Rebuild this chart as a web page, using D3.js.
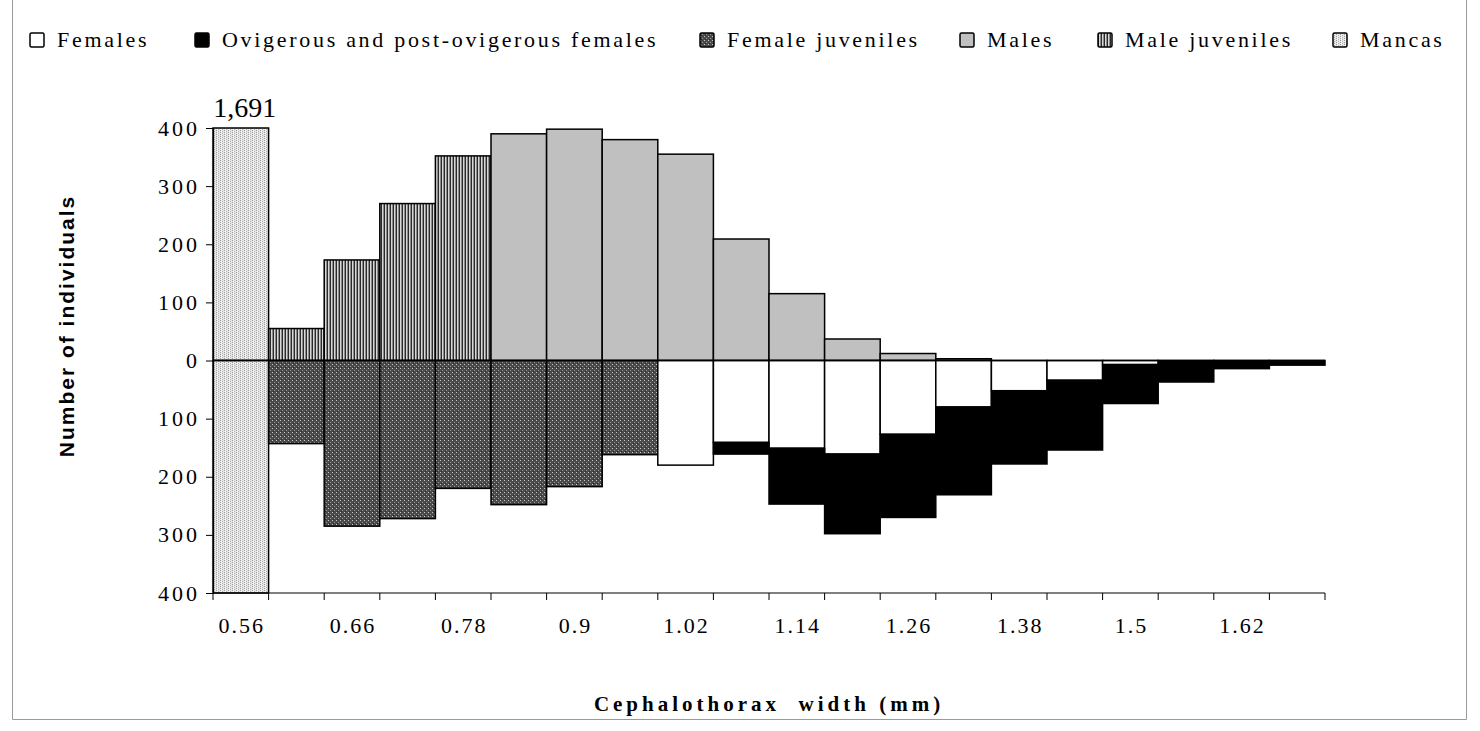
<!DOCTYPE html>
<html>
<head>
<meta charset="utf-8">
<script src="https://cdn.jsdelivr.net/npm/d3@7"></script>
<style>
  html, body { margin: 0; padding: 0; background: #fff; }
  svg { display: block; }
</style>
</head>
<body>
<svg id="chart" width="1480" height="731"></svg>
<script>
// Size classes (cephalothorax width, mm)
const categories = ["0.56","0.60","0.66","0.72","0.78","0.84","0.90","0.96","1.02","1.08",
                    "1.14","1.20","1.26","1.32","1.38","1.44","1.50","1.56","1.62","1.68"];
const tickLabels = ["0.56","","0.66","","0.78","","0.9","","1.02","","1.14","","1.26","","1.38","","1.5","","1.62",""];

// Counts per class (upper half: males side, lower half: females side)
const mancas        = [1691,  0,   0,   0,   0,   0,   0,   0,   0,   0,   0,   0,   0,   0,   0,   0,  0,  0,  0, 0];
const maleJuveniles = [   0, 55, 173, 270, 352,   0,   0,   0,   0,   0,   0,   0,   0,   0,   0,   0,  0,  0,  0, 0];
const males         = [   0,  0,   0,   0,   0, 390, 398, 380, 355, 209, 115,  37,  12,   3,   0,   0,  0,  0,  0, 0];
const femaleJuveniles=[   0,143, 285, 272, 220, 248, 217, 162,   0,   0,   0,   0,   0,   0,   0,   0,  0,  0,  0, 0];
const females       = [   0,  0,   0,   0,   0,   0,   0,   0, 180, 141, 151, 161, 127,  80,  52,  34,  7,  0,  0, 0];
const ovigerous     = [   0,  0,   0,   0,   0,   0,   0,   0,   0,  20,  96, 137, 143, 151, 126, 120, 67, 37, 14, 8];

const yTicks = [-400, -300, -200, -100, 0, 100, 200, 300, 400];

const legendItems = [
  { key: "females",   label: "Females",                              x: 30 },
  { key: "ovigerous", label: "Ovigerous and post-ovigerous females", x: 195 },
  { key: "femaleJuv", label: "Female juveniles",                     x: 700 },
  { key: "males",     label: "Males",                                x: 960 },
  { key: "maleJuv",   label: "Male juveniles",                       x: 1098 },
  { key: "mancas",    label: "Mancas",                               x: 1333 }
];

const SERIF = "'Liberation Serif', 'Times New Roman', serif";
const SANS = "'Liberation Sans', Arial, sans-serif";

const svg = d3.select("#chart");
const defs = svg.append("defs");

// Fill patterns
const pMancas = defs.append("pattern").attr("id", "p-mancas")
  .attr("width", 4).attr("height", 2).attr("patternUnits", "userSpaceOnUse");
pMancas.append("rect").attr("width", 4).attr("height", 2).attr("fill", "#e6e6e6");
pMancas.append("rect").attr("x", 0).attr("y", 0).attr("width", 1).attr("height", 1).attr("fill", "#9a9a9a");
pMancas.append("rect").attr("x", 2).attr("y", 1).attr("width", 1).attr("height", 1).attr("fill", "#b0b0b0");
pMancas.append("rect").attr("x", 1).attr("y", 1).attr("width", 1).attr("height", 1).attr("fill", "#ffffff");

const pMaleJuv = defs.append("pattern").attr("id", "p-malejuv")
  .attr("width", 3).attr("height", 4).attr("patternUnits", "userSpaceOnUse");
pMaleJuv.append("rect").attr("width", 3).attr("height", 4).attr("fill", "#d8d8d8");
pMaleJuv.append("rect").attr("x", 0).attr("width", 1).attr("height", 4).attr("fill", "#2a2a2a");
pMaleJuv.append("rect").attr("x", 2).attr("width", 1).attr("height", 4).attr("fill", "#8c8c8c");

const pFemJuv = defs.append("pattern").attr("id", "p-femjuv")
  .attr("width", 4).attr("height", 4).attr("patternUnits", "userSpaceOnUse");
pFemJuv.append("rect").attr("width", 4).attr("height", 4).attr("fill", "#4a4a4a");
pFemJuv.append("rect").attr("x", 0).attr("y", 0).attr("width", 1).attr("height", 1).attr("fill", "#c8c8c8");
pFemJuv.append("rect").attr("x", 2).attr("y", 2).attr("width", 1).attr("height", 1).attr("fill", "#9a9a9a");
pFemJuv.append("rect").attr("x", 1).attr("y", 3).attr("width", 1).attr("height", 1).attr("fill", "#2a2a2a");

const fills = {
  mancas: "url(#p-mancas)",
  maleJuv: "url(#p-malejuv)",
  males: "#c0c0c0",
  femaleJuv: "url(#p-femjuv)",
  females: "#ffffff",
  ovigerous: "#000000"
};

// Outer frame (left, bottom and right edges)
svg.append("path")
  .attr("d", "M12.5,0 V719.5 H1466.5 V0")
  .attr("fill", "none").attr("stroke", "#9a9a9a").attr("stroke-width", 1);

// Scales
const x = d3.scaleBand().domain(categories).range([213, 1325]).padding(0);
const y = d3.scaleLinear().domain([-400, 400]).range([593, 128]).clamp(true);

// Stacked series: upward for the male side, downward for the female side
const rows = categories.map((c, i) => ({
  cat: c,
  mancas: mancas[i], maleJuv: maleJuveniles[i], males: males[i],
  femaleJuv: femaleJuveniles[i], females: females[i], ovigerous: ovigerous[i]
}));

const upper = d3.stack().keys(["mancas", "maleJuv", "males"])(rows);
const lower = d3.stack().keys(["mancas", "femaleJuv", "females", "ovigerous"])(rows);

const barsG = svg.append("g");

function drawSeries(series, sign) {
  series.forEach(s => {
    barsG.append("g").selectAll("rect")
      .data(s.filter(d => d[1] - d[0] > 0))
      .join("rect")
      .attr("x", d => x(d.data.cat))
      .attr("width", x.bandwidth())
      .attr("y", d => sign > 0 ? y(d[1]) : y(-d[0]))
      .attr("height", d => sign > 0 ? y(d[0]) - y(d[1]) : y(-d[1]) - y(-d[0]))
      .attr("fill", fills[s.key])
      .attr("stroke", "#000")
      .attr("stroke-width", 1.5);
  });
}
drawSeries(upper, 1);
drawSeries(lower, -1);

// Zero line
svg.append("line")
  .attr("x1", 213).attr("x2", 1325)
  .attr("y1", y(0)).attr("y2", y(0))
  .attr("stroke", "#000").attr("stroke-width", 1.5);

// Value label on the clipped mancas bar
svg.append("text")
  .attr("font-family", SERIF)
  .attr("x", x(categories[0]) + x.bandwidth() / 2 + 4)
  .attr("y", 117)
  .attr("text-anchor", "middle")
  .attr("font-size", 28)
  .text(d3.format(",")(mancas[0]));

// Y axis
const yAxis = d3.axisLeft(y).tickValues(yTicks).tickSize(7).tickPadding(6)
  .tickFormat(d => Math.abs(d));
const yg = svg.append("g").attr("transform", "translate(213,0)").call(yAxis);
yg.attr("font-family", SERIF);
yg.select(".domain").attr("stroke", "#000").attr("stroke-width", 1.2);
yg.selectAll(".tick line").attr("stroke", "#000");
yg.selectAll(".tick text")
  .attr("font-family", SERIF)
  .attr("font-size", 22)
  .attr("letter-spacing", 3)
  .attr("fill", "#000");

// X axis: ticks on class boundaries, labels on alternate classes
const xg = svg.append("g").attr("transform", `translate(0,${y(-400)})`);
xg.append("line").attr("x1", 213).attr("x2", 1325).attr("y1", 0).attr("y2", 0)
  .attr("stroke", "#000").attr("stroke-width", 1.2);
const boundaries = categories.map(c => x(c)).concat([x.range()[1]]);
xg.selectAll("line.tk").data(boundaries).join("line").attr("class", "tk")
  .attr("x1", d => d).attr("x2", d => d).attr("y1", 0).attr("y2", 7)
  .attr("stroke", "#000").attr("stroke-width", 1);
xg.selectAll("text").data(categories.map((c, i) => ({ c, label: tickLabels[i] })).filter(d => d.label))
  .join("text")
  .attr("font-family", SERIF)
  .attr("x", d => x(d.c) + x.bandwidth() / 2 + 1)
  .attr("y", 40)
  .attr("text-anchor", "middle")
  .attr("font-size", 22)
  .attr("letter-spacing", 2)
  .text(d => d.label);

// Axis titles
svg.append("text")
  .attr("transform", "translate(74,326) rotate(-90)")
  .attr("text-anchor", "middle")
  .attr("font-family", SANS)
  .attr("font-weight", "bold")
  .attr("font-size", 21)
  .attr("letter-spacing", 2)
  .text("Number of individuals");

svg.append("text")
  .attr("font-family", SERIF)
  .attr("x", 769).attr("y", 711)
  .attr("text-anchor", "middle")
  .attr("font-weight", "bold")
  .attr("font-size", 21)
  .attr("letter-spacing", 4)
  .style("white-space", "pre")
  .text("Cephalothorax  width (mm)");

// Legend
const lg = svg.append("g");
legendItems.forEach(it => {
  lg.append("rect")
    .attr("x", it.x).attr("y", 33).attr("width", 14).attr("height", 14)
    .attr("rx", 1.5)
    .attr("fill", fills[it.key]).attr("stroke", "#000").attr("stroke-width", 1.5);
  lg.append("text")
    .attr("font-family", SERIF)
    .attr("x", it.x + 27).attr("y", 47)
    .attr("font-size", 22)
    .attr("letter-spacing", 2.7)
    .text(it.label);
});
</script>
</body>
</html>
